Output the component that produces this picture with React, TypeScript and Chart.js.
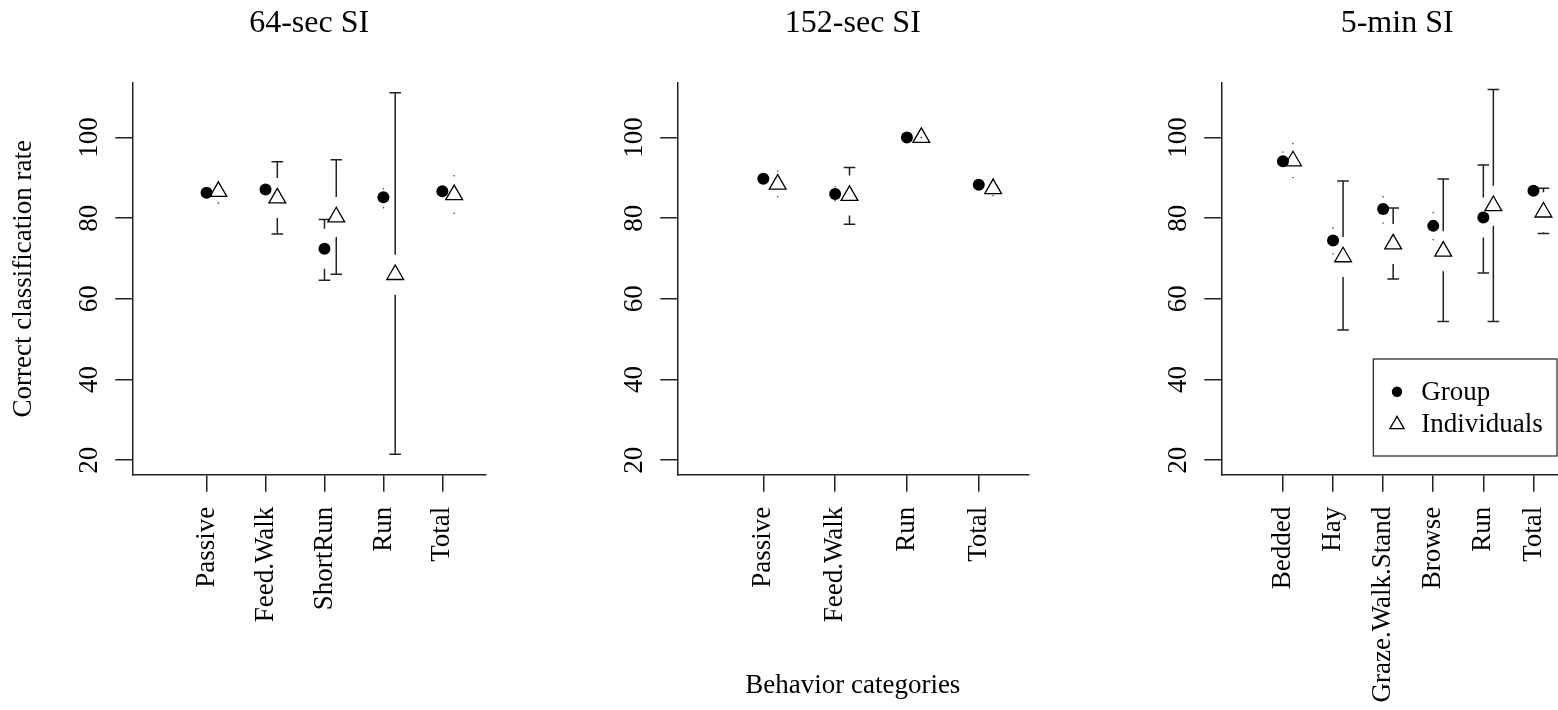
import React, { useEffect, useRef } from 'react';
import { Chart, registerables } from 'chart.js';

Chart.register(...registerables);

const FONT = "'Liberation Serif', 'Times New Roman', Times, serif";
Chart.defaults.font.family = FONT;

// ---------- data ----------
const yTicks = [20, 40, 60, 80, 100];
const yMin = 16.4;
const yMax = 113.6;

// 64-sec SI
const cats64 = ['Passive', 'Feed.Walk', 'ShortRun', 'Run', 'Total'];
const group64 = [86.3, 87.1, 72.4, 85.2, 86.7];
const group64Lo = [85.4, 86.2, 64.6, 82.6, 85.8];
const group64Hi = [87.2, 88.0, 79.7, 87.3, 87.6];
const indiv64 = [86.6, 85.0, 80.3, 66.0, 85.8];
const indiv64Lo = [83.8, 76.1, 66.1, 21.5, 81.2];
const indiv64Hi = [89.0, 94.0, 94.5, 111.1, 90.5];

// 152-sec SI
const cats152 = ['Passive', 'Feed.Walk', 'Run', 'Total'];
const group152 = [89.8, 86.0, 100.0, 88.3];
const group152Lo = [89.0, 84.3, 100.0, 87.6];
const group152Hi = [90.6, 87.8, 100.0, 89.0];
const indiv152 = [88.4, 85.6, 100.0, 87.3];
const indiv152Lo = [85.3, 78.5, 100.0, 85.6];
const indiv152Hi = [91.7, 92.6, 100.0, 89.7];

// 5-min SI
const cats5 = ['Bedded', 'Hay', 'Graze.Walk.Stand', 'Browse', 'Run', 'Total'];
const group5 = [94.1, 74.5, 82.3, 78.1, 80.2, 86.8];
const group5Lo = [92.9, 71.2, 78.8, 74.7, 66.4, 86.0];
const group5Hi = [96.4, 77.6, 85.3, 81.4, 93.2, 87.6];
const indiv5 = [94.2, 70.4, 73.6, 71.8, 83.1, 81.5];
const indiv5Lo = [90.1, 52.3, 64.9, 54.4, 54.4, 76.2];
const indiv5Hi = [98.5, 89.2, 82.5, 89.7, 111.9, 87.4];

const legendLabels = ['Group', 'Individuals'];
const yTitleText = 'Correct classification rate';
const xTitleText = 'Behavior categories';

// ---------- styles ----------
const INK = '#222';
const LINE_W = 1.5;
const GAP = 20;
const CAP = 5.8;
const OFFSET = 0.2;
const H = 710;

interface PanelSpec {
  title: string;
  cats: string[];
  group: number[]; groupLo: number[]; groupHi: number[];
  indiv: number[]; indivLo: number[]; indivHi: number[];
  left: number; width: number; padRight: number;
  xMin: number; xMax: number;
  yTitle: boolean; xTitle: boolean; legend: boolean;
}

const PANELS: PanelSpec[] = [
  {
    title: '64-sec SI', cats: cats64,
    group: group64, groupLo: group64Lo, groupHi: group64Hi,
    indiv: indiv64, indivLo: indiv64Lo, indivHi: indiv64Hi,
    left: 0, width: 540, padRight: 54, xMin: -0.26, xMax: 5.74,
    yTitle: true, xTitle: false, legend: false,
  },
  {
    title: '152-sec SI', cats: cats152,
    group: group152, groupLo: group152Lo, groupHi: group152Hi,
    indiv: indiv152, indivLo: indiv152Lo, indivHi: indiv152Hi,
    left: 545, width: 540, padRight: 56.7, xMin: -0.198, xMax: 4.69,
    yTitle: false, xTitle: true, legend: false,
  },
  {
    title: '5-min SI', cats: cats5,
    group: group5, groupLo: group5Lo, groupHi: group5Hi,
    indiv: indiv5, indivLo: indiv5Lo, indivHi: indiv5Hi,
    left: 1089, width: 514, padRight: 30, xMin: -0.231, xMax: 6.79,
    yTitle: false, xTitle: false, legend: true,
  },
];

const errorBarPlugin = {
  id: 'ciBars',
  beforeDatasetsDraw(chart: any) {
    const ctx = chart.ctx;
    const ys = chart.scales.y;
    chart.data.datasets.forEach((ds: any, di: number) => {
      const meta = chart.getDatasetMeta(di);
      meta.data.forEach((pt: any, i: number) => {
        const x = pt.x;
        const y = pt.y;
        const yh = ys.getPixelForValue(ds.hi[i]);
        const yl = ys.getPixelForValue(ds.lo[i]);
        ctx.save();
        ctx.strokeStyle = INK;
        ctx.fillStyle = '#444';
        ctx.lineWidth = LINE_W;
        const seg = (a: number, b: number) => {
          ctx.beginPath();
          ctx.moveTo(x, a);
          ctx.lineTo(x, b);
          ctx.moveTo(x - CAP, b);
          ctx.lineTo(x + CAP, b);
          ctx.stroke();
        };
        const dot = (yy: number) => {
          ctx.beginPath();
          ctx.arc(x, yy, 0.8, 0, Math.PI * 2);
          ctx.fill();
        };
        if (yh < y - GAP) seg(y - GAP, yh); else dot(yh);
        if (yl > y + GAP) seg(y + GAP, yl); else dot(yl);
        ctx.restore();
      });
    });
  },
};

const boxLegendPlugin = {
  id: 'boxLegend',
  afterDraw(chart: any) {
    const ctx = chart.ctx;
    const area = chart.chartArea;
    const bx = area.left + 152;
    const by = area.bottom - 115.7;
    const bw = 183.7;
    const bh = 97;
    ctx.save();
    ctx.strokeStyle = INK;
    ctx.lineWidth = 1.2;
    ctx.strokeRect(bx, by, bw, bh);
    const sx = bx + 23.7;
    const tx = bx + 48;
    // Group
    ctx.fillStyle = '#000';
    ctx.beginPath();
    ctx.arc(sx, by + 32.7, 5.2, 0, Math.PI * 2);
    ctx.fill();
    // Individuals (triangle)
    const r = 8.2;
    const cy = by + 65.5;
    ctx.beginPath();
    ctx.moveTo(sx, cy - r);
    ctx.lineTo(sx + r * Math.sin((2 * Math.PI) / 3), cy - r * Math.cos((2 * Math.PI) / 3));
    ctx.lineTo(sx + r * Math.sin((4 * Math.PI) / 3), cy - r * Math.cos((4 * Math.PI) / 3));
    ctx.closePath();
    ctx.lineWidth = 1.3;
    ctx.strokeStyle = '#000';
    ctx.stroke();
    ctx.font = `27px ${FONT}`;
    ctx.fillStyle = '#000';
    ctx.textAlign = 'left';
    ctx.textBaseline = 'middle';
    ctx.fillText(chart.data.datasets[0].label, tx, by + 33.5);
    ctx.fillText(chart.data.datasets[1].label, tx, by + 65.8);
    ctx.restore();
  },
};

function buildConfig(p: PanelSpec): any {
  const font27 = { family: FONT, size: 27 };
  return {
    type: 'scatter',
    data: {
      datasets: [
        {
          label: legendLabels[0],
          data: p.group.map((v, i) => ({ x: i + 1, y: v })),
          lo: p.groupLo,
          hi: p.groupHi,
          pointStyle: 'circle',
          pointRadius: 6,
          backgroundColor: '#000',
          borderColor: '#000',
          borderWidth: 0,
        },
        {
          label: legendLabels[1],
          data: p.indiv.map((v, i) => ({ x: i + 1 + OFFSET, y: v })),
          lo: p.indivLo,
          hi: p.indivHi,
          pointStyle: 'triangle',
          pointRadius: 9.7,
          backgroundColor: 'rgba(0,0,0,0)',
          borderColor: '#000',
          borderWidth: 1.3,
        },
      ],
    },
    options: {
      responsive: false,
      animation: false,
      devicePixelRatio: 1,
      events: [],
      layout: { padding: { left: 0, top: 0, bottom: 0, right: p.padRight } },
      plugins: {
        legend: { display: false },
        tooltip: { enabled: false },
        title: { display: false },
      },
      scales: {
        x: {
          type: 'linear',
          position: 'bottom',
          min: p.xMin,
          max: p.xMax,
          afterBuildTicks: (s: any) => {
            s.ticks = p.cats.map((_, i) => ({ value: i + 1 }));
          },
          afterFit: (s: any) => {
            s.height = H - 474.7;
          },
          ticks: {
            autoSkip: false,
            minRotation: 90,
            maxRotation: 90,
            padding: 15,
            color: '#000',
            font: font27,
            callback: (v: number) => p.cats[Math.round(v) - 1] ?? '',
          },
          grid: { drawOnChartArea: false, drawTicks: true, tickLength: 17, color: INK, lineWidth: LINE_W },
          border: { display: true, color: INK, width: LINE_W },
          title: {
            display: p.xTitle,
            text: xTitleText,
            color: '#000',
            font: font27,
            padding: { top: 0, bottom: 8 },
          },
        },
        top: {
          type: 'linear',
          axis: 'x',
          position: 'top',
          min: p.xMin,
          max: p.xMax,
          afterFit: (s: any) => {
            s.height = 82.7;
          },
          ticks: { display: false },
          grid: { display: false },
          border: { display: false },
          title: {
            display: true,
            text: p.title,
            color: '#000',
            font: { family: FONT, size: 32 },
            padding: { top: 4.8, bottom: 0 },
          },
        },
        y: {
          type: 'linear',
          position: 'left',
          min: yMin,
          max: yMax,
          afterBuildTicks: (s: any) => {
            s.ticks = yTicks.map((v) => ({ value: v }));
          },
          afterFit: (s: any) => {
            s.width = 132.3;
          },
          ticks: {
            minRotation: 90,
            maxRotation: 90,
            crossAlign: 'center',
            padding: 5.2,
            color: '#000',
            font: font27,
            callback: (v: number) => String(v),
          },
          grid: { drawOnChartArea: false, drawTicks: true, tickLength: 17, color: INK, lineWidth: LINE_W },
          border: { display: true, color: INK, width: LINE_W },
          title: {
            display: p.yTitle,
            text: yTitleText,
            color: '#000',
            font: font27,
            padding: { top: 8, bottom: 0 },
          },
        },
      },
    },
    plugins: p.legend ? [errorBarPlugin, boxLegendPlugin] : [errorBarPlugin],
  };
}

function Panel({ spec }: { spec: PanelSpec }) {
  const ref = useRef<HTMLCanvasElement | null>(null);
  useEffect(() => {
    if (!ref.current) return;
    const chart = new Chart(ref.current, buildConfig(spec));
    return () => chart.destroy();
  }, [spec]);
  return (
    <canvas
      ref={ref}
      width={spec.width}
      height={H}
      style={{ position: 'absolute', left: spec.left, top: 0, width: spec.width, height: H }}
    />
  );
}

export default function App() {
  return (
    <div
      style={{
        position: 'fixed',
        left: 0,
        top: 0,
        width: 1558,
        height: H,
        overflow: 'hidden',
        background: '#fff',
      }}
    >
      {PANELS.map((p) => (
        <Panel key={p.title} spec={p} />
      ))}
    </div>
  );
}
